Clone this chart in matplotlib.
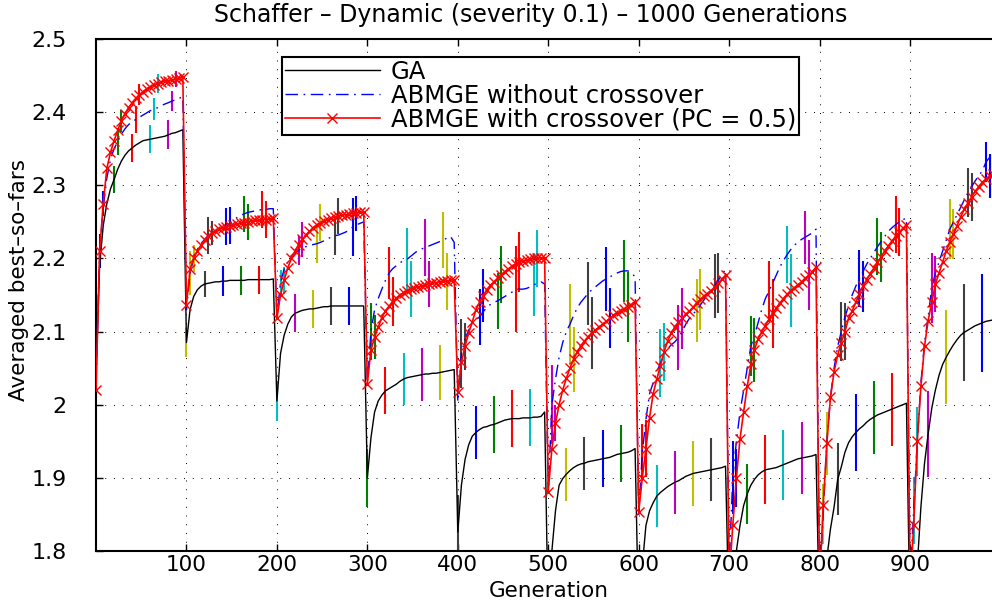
import numpy as np
import matplotlib.pyplot as plt

########################################################
# DATA (one value every 4 generations)
########################################################

generations = np.arange(0, 1000, 4)

ga_best = [
    # 0-96
    2.04, 2.19, 2.245, 2.275, 2.295, 2.308, 2.322, 2.333, 2.341, 2.347, 2.351, 2.355, 2.358,
    2.361, 2.362, 2.363, 2.364, 2.365, 2.366, 2.367, 2.369, 2.371, 2.372, 2.374, 2.376,
    # 100-196
    2.085, 2.13, 2.148, 2.157, 2.162, 2.165, 2.166, 2.167, 2.168, 2.168, 2.169, 2.169, 2.17,
    2.17, 2.17, 2.17, 2.17, 2.171, 2.171, 2.171, 2.171, 2.171, 2.171, 2.171, 2.172,
    # 200-296
    2.005, 2.07, 2.095, 2.11, 2.12, 2.125, 2.127, 2.129, 2.13, 2.131, 2.131, 2.132, 2.133,
    2.134, 2.134, 2.135, 2.135, 2.135, 2.135, 2.135, 2.135, 2.135, 2.135, 2.135, 2.135,
    # 300-396
    1.9, 1.955, 1.99, 2.005, 2.013, 2.019, 2.022, 2.025, 2.028, 2.032, 2.035, 2.037, 2.038,
    2.039, 2.04, 2.041, 2.042, 2.042, 2.043, 2.043, 2.044, 2.045, 2.046, 2.047, 2.048,
    # 400-496
    1.826, 1.89, 1.925, 1.945, 1.957, 1.962, 1.966, 1.969, 1.97, 1.972, 1.973, 1.975, 1.977,
    1.979, 1.98, 1.981, 1.981, 1.981, 1.982, 1.982, 1.982, 1.983, 1.983, 1.984, 1.99,
    # 500-596
    1.70, 1.80, 1.855, 1.89, 1.899, 1.905, 1.91, 1.914, 1.917, 1.919, 1.92, 1.922, 1.923,
    1.924, 1.925, 1.926, 1.927, 1.928, 1.93, 1.932, 1.933, 1.934, 1.935, 1.937, 1.94,
    # 600-696
    1.70, 1.78, 1.835, 1.855, 1.866, 1.875, 1.88, 1.884, 1.888, 1.891, 1.894, 1.896, 1.899,
    1.902, 1.904, 1.906, 1.907, 1.908, 1.909, 1.91, 1.911, 1.912, 1.913, 1.914, 1.916,
    # 700-796
    1.70, 1.75, 1.80, 1.835, 1.862, 1.878, 1.89, 1.898, 1.904, 1.908, 1.911, 1.912, 1.913,
    1.914, 1.916, 1.918, 1.92, 1.922, 1.924, 1.926, 1.927, 1.928, 1.929, 1.93, 1.932,
    # 800-896
    1.70, 1.74, 1.79, 1.83, 1.86, 1.898, 1.915, 1.935, 1.948, 1.956, 1.962, 1.967, 1.971,
    1.976, 1.98, 1.983, 1.986, 1.988, 1.99, 1.992, 1.994, 1.996, 1.998, 2.0, 2.002,
    # 900-996
    1.70, 1.72, 1.78, 1.86, 1.92, 1.96, 1.995, 2.02, 2.04, 2.055, 2.065, 2.074, 2.082,
    2.089, 2.095, 2.099, 2.102, 2.105, 2.108, 2.11, 2.112, 2.114, 2.115, 2.116, 2.117,
]

no_cross_best = [
    2.03, 2.21, 2.27, 2.31, 2.335, 2.35, 2.36, 2.37, 2.377, 2.383, 2.387, 2.39, 2.393,
    2.396, 2.399, 2.402, 2.404, 2.406, 2.409, 2.411, 2.413, 2.415, 2.417, 2.419, 2.421,
    2.13, 2.18, 2.2, 2.212, 2.22, 2.226, 2.231, 2.235, 2.238, 2.24, 2.242, 2.244, 2.248,
    2.252, 2.256, 2.259, 2.261, 2.263, 2.264, 2.265, 2.266, 2.267, 2.267, 2.268, 2.268,
    2.12, 2.168, 2.185, 2.195, 2.203, 2.207, 2.211, 2.214, 2.216, 2.218, 2.219, 2.22, 2.222,
    2.224, 2.227, 2.229, 2.231, 2.232, 2.234, 2.236, 2.239, 2.243, 2.246, 2.248, 2.25,
    2.03, 2.1, 2.13, 2.145, 2.158, 2.17, 2.18, 2.186, 2.19, 2.194, 2.197, 2.199, 2.203,
    2.207, 2.211, 2.213, 2.215, 2.217, 2.219, 2.221, 2.223, 2.225, 2.228, 2.23, 2.222,
    2.004, 2.07, 2.09, 2.102, 2.11, 2.116, 2.12, 2.127, 2.133, 2.137, 2.14, 2.142, 2.145,
    2.148, 2.151, 2.154, 2.158, 2.158, 2.158, 2.159, 2.161, 2.164, 2.166, 2.168, 2.165,
    1.88, 2.0, 2.035, 2.065, 2.085, 2.1, 2.11, 2.122, 2.132, 2.14, 2.146, 2.152, 2.157,
    2.161, 2.165, 2.169, 2.172, 2.175, 2.177, 2.18, 2.182, 2.183, 2.183, 2.18, 2.175,
    1.85, 1.935, 1.98, 2.015, 2.03, 2.045, 2.057, 2.068, 2.076, 2.082, 2.086, 2.092, 2.1,
    2.11, 2.118, 2.124, 2.129, 2.136, 2.143, 2.15, 2.156, 2.162, 2.17, 2.178, 2.185,
    1.78, 1.9, 1.95, 1.99, 2.02, 2.05, 2.08, 2.095, 2.112, 2.13, 2.145, 2.155, 2.166,
    2.177, 2.188, 2.197, 2.205, 2.212, 2.218, 2.222, 2.226, 2.229, 2.232, 2.235, 2.24,
    1.76, 1.85, 1.95, 2.01, 2.05, 2.08, 2.1, 2.12, 2.135, 2.15, 2.162, 2.172, 2.182,
    2.192, 2.2, 2.208, 2.216, 2.223, 2.23, 2.237, 2.242, 2.246, 2.25, 2.253, 2.255,
    1.76, 1.855, 1.95, 2.03, 2.085, 2.12, 2.16, 2.18, 2.195, 2.21, 2.225, 2.24, 2.25,
    2.26, 2.27, 2.28, 2.29, 2.298, 2.306, 2.313, 2.32, 2.332, 2.338, 2.342, 2.346,
]

cross_best = [
    2.02, 2.21, 2.275, 2.323, 2.345, 2.361, 2.375, 2.388, 2.398, 2.406, 2.413, 2.419, 2.424,
    2.428, 2.432, 2.435, 2.437, 2.439, 2.441, 2.442, 2.443, 2.444, 2.445, 2.446, 2.448,
    2.137, 2.185, 2.2, 2.21, 2.218, 2.225, 2.231, 2.235, 2.238, 2.24, 2.242, 2.243, 2.245,
    2.246, 2.247, 2.248, 2.249, 2.25, 2.251, 2.252, 2.252, 2.253, 2.253, 2.254, 2.255,
    2.118, 2.15, 2.17, 2.187, 2.2, 2.21, 2.219, 2.226, 2.232, 2.237, 2.242, 2.246, 2.249,
    2.251, 2.253, 2.255, 2.257, 2.258, 2.259, 2.26, 2.261, 2.262, 2.262, 2.263, 2.263,
    2.029, 2.075, 2.092, 2.106, 2.119, 2.128, 2.135, 2.141, 2.146, 2.15, 2.153, 2.156, 2.158,
    2.16, 2.161, 2.162, 2.164, 2.165, 2.166, 2.167, 2.168, 2.169, 2.169, 2.17, 2.171,
    2.018, 2.058, 2.08, 2.098, 2.113, 2.13, 2.14, 2.149, 2.157, 2.163, 2.168, 2.173, 2.178,
    2.182, 2.186, 2.189, 2.192, 2.195, 2.196, 2.198, 2.199, 2.2, 2.2, 2.201, 2.201,
    1.881, 1.94, 1.975, 2.0, 2.02, 2.036, 2.05, 2.062, 2.072, 2.08, 2.087, 2.093, 2.098,
    2.102, 2.106, 2.11, 2.114, 2.118, 2.122, 2.125, 2.128, 2.131, 2.134, 2.137, 2.141,
    1.854, 1.9, 1.94, 1.982, 2.015, 2.035, 2.053, 2.072, 2.087, 2.098, 2.106, 2.113, 2.118,
    2.124, 2.128, 2.133, 2.139, 2.144, 2.148, 2.152, 2.156, 2.161, 2.166, 2.172, 2.177,
    1.76, 1.835, 1.9, 1.953, 1.99, 2.025, 2.055, 2.075, 2.09, 2.1, 2.108, 2.117, 2.125,
    2.132, 2.139, 2.145, 2.151, 2.156, 2.16, 2.164, 2.168, 2.173, 2.177, 2.182, 2.188,
    1.76, 1.863, 1.947, 2.01, 2.045, 2.068, 2.085, 2.1, 2.118, 2.128, 2.14, 2.152, 2.162,
    2.171, 2.179, 2.187, 2.195, 2.202, 2.21, 2.217, 2.224, 2.23, 2.236, 2.241, 2.246,
    1.75, 1.835, 1.95, 2.025, 2.08, 2.115, 2.14, 2.165, 2.18, 2.195, 2.21, 2.223, 2.233,
    2.245, 2.257, 2.267, 2.276, 2.284, 2.292, 2.298, 2.304, 2.309, 2.313, 2.316, 2.319,
]

# half-lengths of the error bars, 5 per 100-generation period
ga_err = [
    0.03, 0.019, 0.019, 0.019, 0.02,
    0.02, 0.018, 0.02, 0.02, 0.019,
    0.027, 0.026, 0.026, 0.026, 0.026,
    0.04, 0.032, 0.036, 0.036, 0.038,
    0.05, 0.036, 0.039, 0.039, 0.039,
    0.04, 0.036, 0.036, 0.039, 0.039,
    0.04, 0.042, 0.043, 0.044, 0.043,
    0.04, 0.041, 0.047, 0.048, 0.049,
    0.04, 0.049, 0.052, 0.05, 0.05,
    0.04, 0.059, 0.064, 0.066, 0.067,
]

no_cross_err = [
    0.023, 0.019, 0.018, 0.015, 0.014,
    0.03, 0.025, 0.025, 0.025, 0.025,
    0.016, 0.02, 0.026, 0.026, 0.039,
    0.039, 0.035, 0.043, 0.039, 0.038,
    0.047, 0.038, 0.038, 0.059, 0.043,
    0.054, 0.055, 0.043, 0.044, 0.042,
    0.038, 0.046, 0.044, 0.043, 0.044,
    0.05, 0.041, 0.042, 0.039, 0.036,
    0.041, 0.04, 0.039, 0.039, 0.039,
    0.046, 0.048, 0.041, 0.034, 0.027,
]

cross_err = [
    0.017, 0.015, 0.014, 0.0125, 0.011,
    0.018, 0.016, 0.025, 0.025, 0.025,
    0.018, 0.024, 0.025, 0.024, 0.024,
    0.03, 0.034, 0.038, 0.031, 0.039,
    0.032, 0.036, 0.039, 0.041, 0.039,
    0.024, 0.044, 0.049, 0.041, 0.048,
    0.039, 0.04, 0.042, 0.042, 0.041,
    0.04, 0.044, 0.047, 0.05, 0.048,
    0.043, 0.039, 0.035, 0.034, 0.033,
    0.047, 0.038, 0.034, 0.033, 0.03,
]

y_ticks = [1.8, 1.9, 2.0, 2.1, 2.2, 2.3, 2.4, 2.5]
y_tick_labels = ["1.8", "1.9", "2", "2.1", "2.2", "2.3", "2.4", "2.5"]
x_ticks = [100, 200, 300, 400, 500, 600, 700, 800, 900]

########################################################
# STYLE
########################################################

plt.rcParams['font.family'] = ['DejaVu Sans']

matlab_colors = [
    (0, 0, 1), (0, 0.5, 0), (1, 0, 0), (0, 0.75, 0.75),
    (0.75, 0, 0.75), (0.75, 0.75, 0), (0.25, 0.25, 0.25)
]

fig = plt.figure(figsize=(9.92, 6.06), dpi=100)

# axes runs a little past the right edge of the figure, as in the reference
ax = fig.add_axes([96 / 992, 55 / 606, 904.5 / 992, 512 / 606])

########################################################
# ERROR BARS
########################################################

series = [
    (ga_best, ga_err, 0),
    (no_cross_best, no_cross_err, 1),
    (cross_best, cross_err, 2),
]

for values, errs, offset in series:
    idx = np.arange(offset, len(generations), 5)
    xs = generations[idx]
    ys = np.array(values)[idx]
    es = np.array(errs)
    cols = [matlab_colors[k % 7] for k in range(len(idx))]
    ax.vlines(xs, ys - es, ys + es, colors=cols, linewidth=1.5, zorder=2)

########################################################
# LINES
########################################################

ax.plot(generations, ga_best, color='k', linewidth=1.0,
        label="GA", zorder=3)

ax.plot(generations, no_cross_best, color=(0, 0, 1), linewidth=1.0,
        linestyle=(0, (9, 4, 1.2, 4)),
        label="ABMGE without crossover", zorder=3)

ax.plot(generations, cross_best, color=(1, 0, 0), linewidth=1.2,
        marker='x', markersize=7.5, markeredgewidth=1.0,
        label="ABMGE with crossover (PC = 0.5)", zorder=4)

########################################################
# AXES
########################################################

ax.set_xlim(0, 1000)
ax.set_ylim(1.8, 2.5)

ax.set_xticks(x_ticks)
ax.set_yticks(y_ticks)
ax.set_yticklabels(y_tick_labels)

ax.tick_params(direction='in', length=5, width=1, top=True, right=True)
ax.tick_params(axis='y', pad=21, labelsize=16)
ax.tick_params(axis='x', pad=3, labelsize=15.5)

for spine in ax.spines.values():
    spine.set_linewidth(1.5)

ax.grid(True, color='k', linewidth=0.7, linestyle=(0, (1, 8)))
ax.set_axisbelow(True)

ax.set_xlabel("Generation", fontsize=15.5, va='top')
ax.xaxis.set_label_coords(0.5, -0.058)

ax.set_ylabel("Averaged best\u2013so\u2013fars", fontsize=15.5, va='center')
ax.yaxis.set_label_coords(-0.085, 0.53)

fig.text(0.535, 0.975,
         "Schaffer \u2013 Dynamic (severity 0.1) \u2013 1000 Generations",
         fontsize=17, ha='center', va='center')

leg = ax.legend(loc='upper left', bbox_to_anchor=(0.2056, 0.965),
                borderaxespad=0, fontsize=17.5, numpoints=1,
                handlelength=3.9, handletextpad=0.45, labelspacing=0.0,
                borderpad=0.12, fancybox=False, framealpha=1)
leg.get_frame().set_edgecolor('k')
leg.get_frame().set_linewidth(1.5)

fig.savefig("out.png", dpi=100)
